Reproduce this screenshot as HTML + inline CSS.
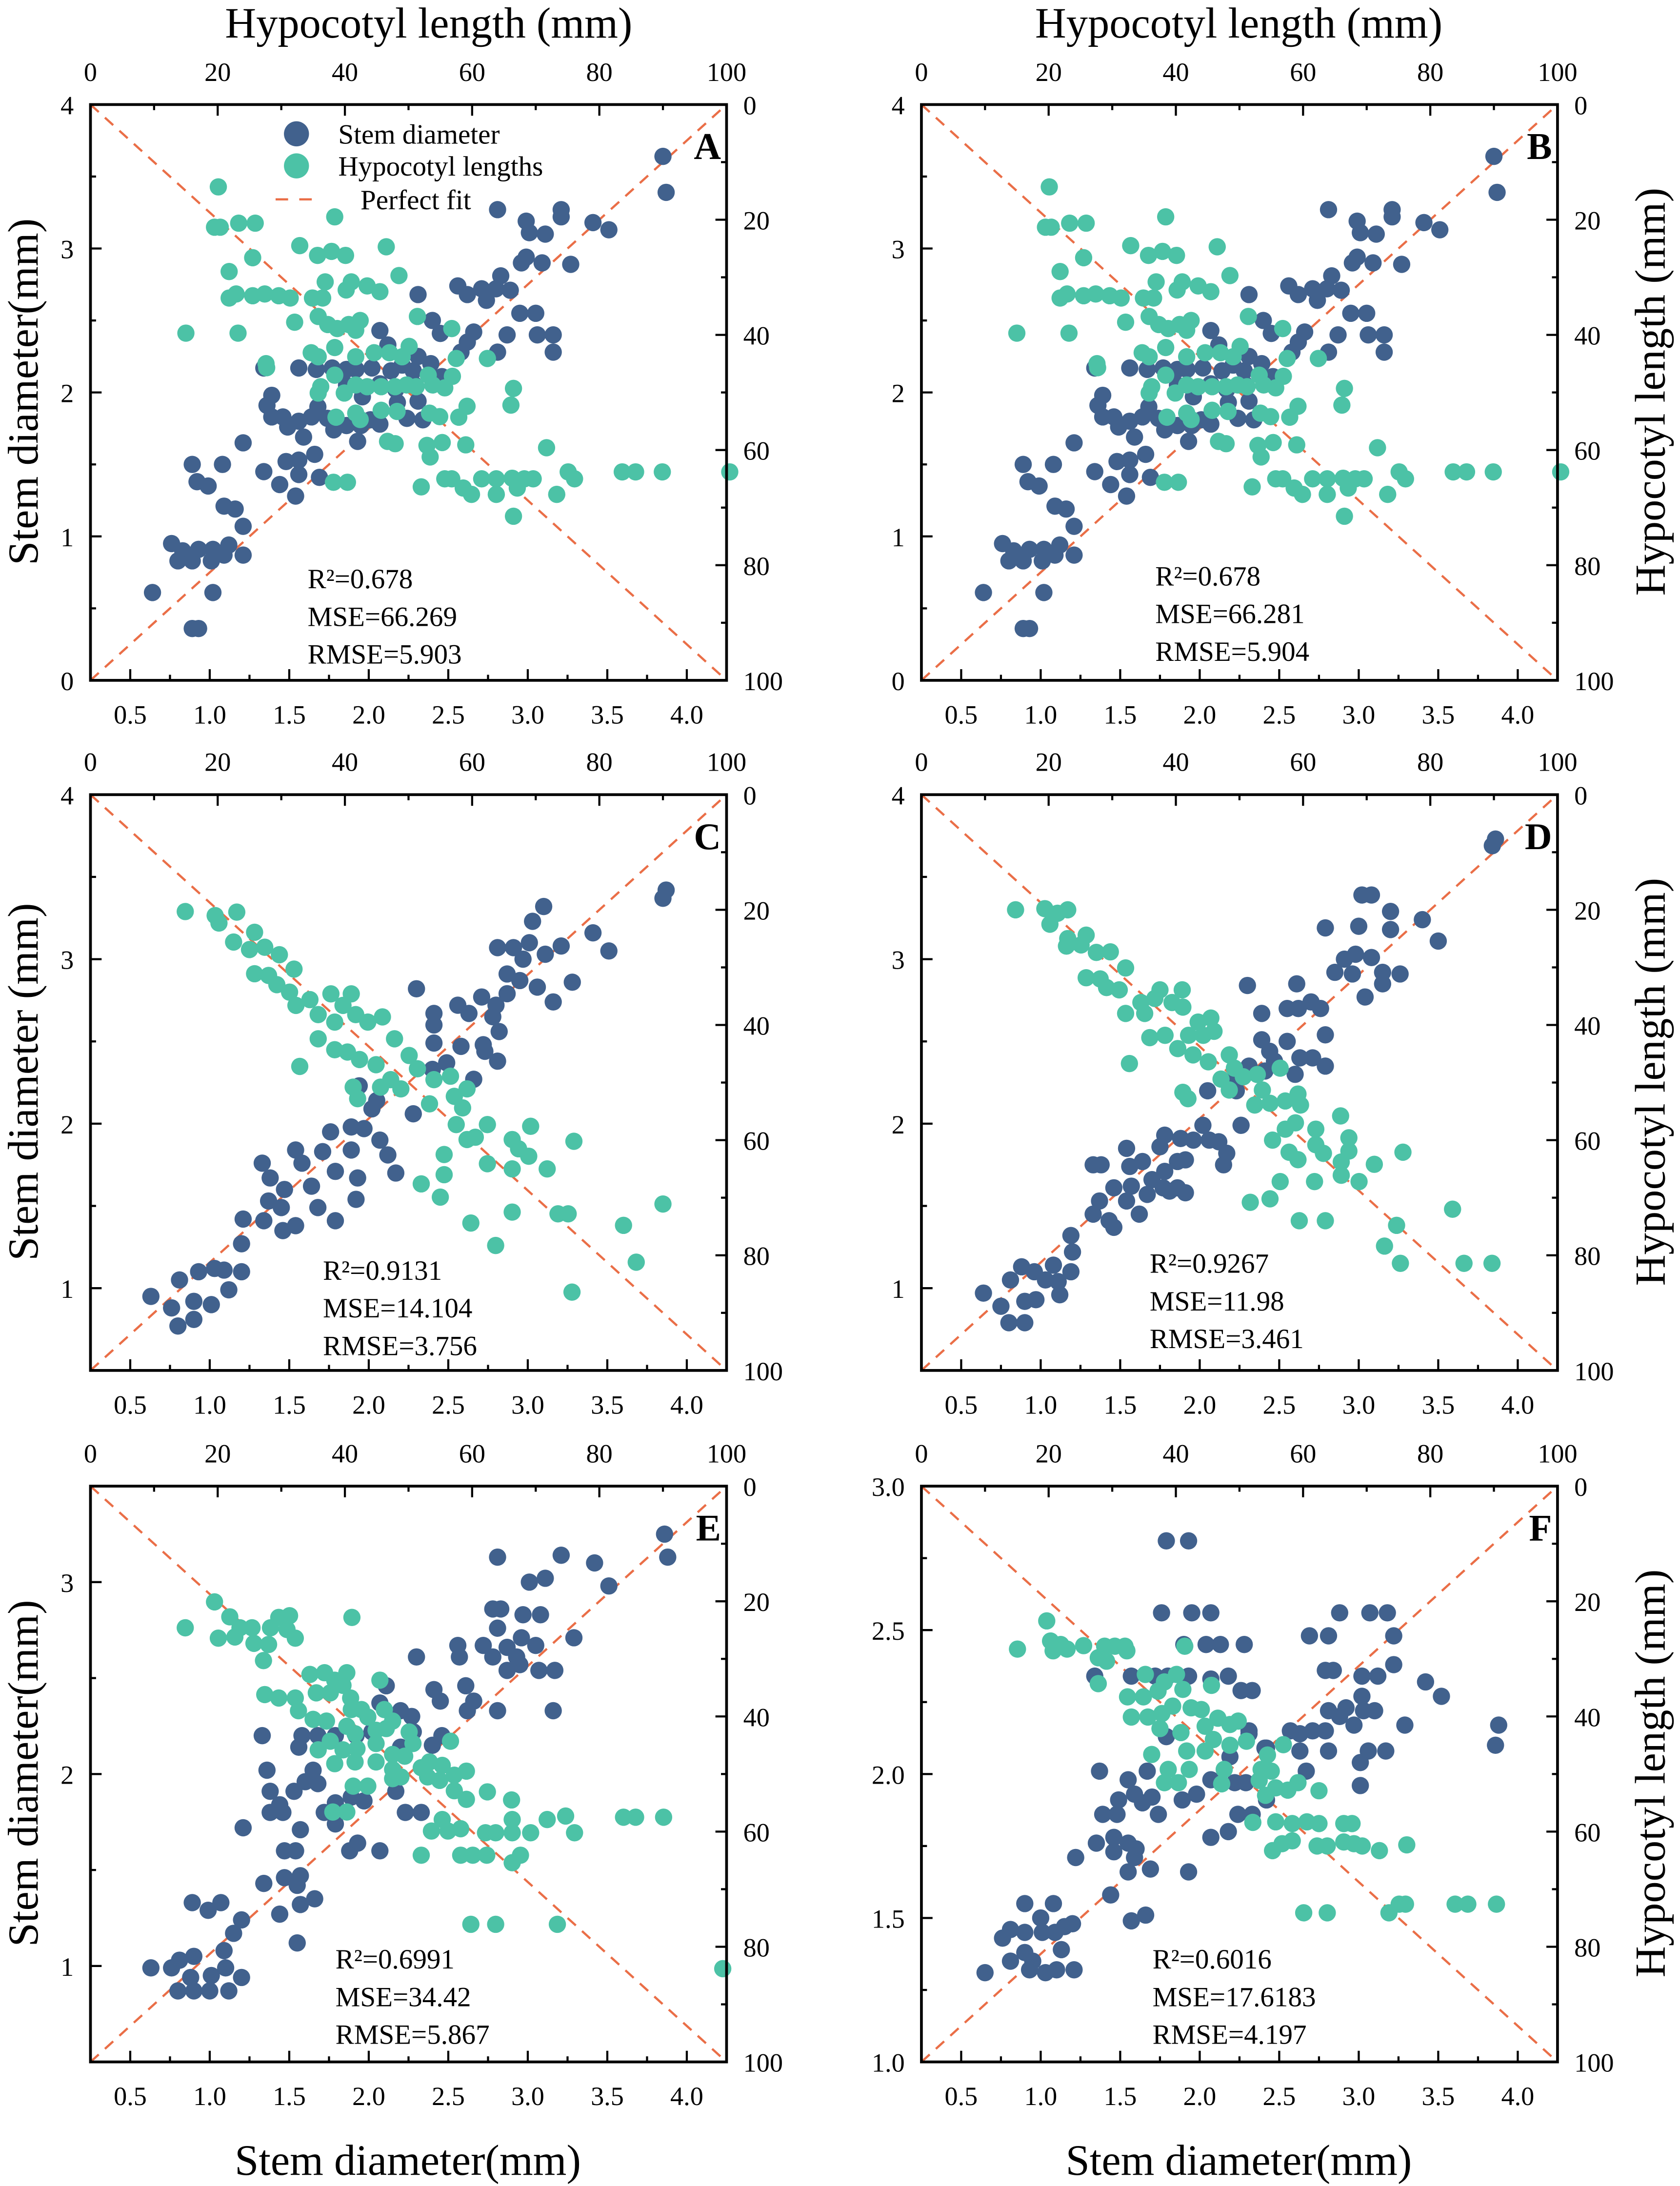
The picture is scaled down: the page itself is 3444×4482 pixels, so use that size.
<!DOCTYPE html>
<html><head><meta charset="utf-8"><style>html,body{margin:0;padding:0;background:#fff}svg{display:block}svg text{font-family:"Liberation Serif",serif}</style></head>
<body>
<svg id="fig" xmlns="http://www.w3.org/2000/svg" width="3444" height="4482" viewBox="0 0 1207 1568" preserveAspectRatio="none" style="font-family:'Liberation Serif',serif">
<g font-size="31" text-anchor="middle" fill="#000">
<text x="308" y="27">Hypocotyl length (mm)</text>
<text x="890" y="27">Hypocotyl length (mm)</text>
<text x="293" y="1560">Stem diameter(mm)</text>
<text x="890" y="1560">Stem diameter(mm)</text>
<text transform="translate(27,281) rotate(-90)">Stem diameter(mm)</text>
<text transform="translate(27,776) rotate(-90)">Stem diameter (mm)</text>
<text transform="translate(27,1272) rotate(-90)">Stem diameter(mm)</text>
<text transform="translate(1196,281) rotate(-90)">Hypocotyl length (mm)</text>
<text transform="translate(1196,776) rotate(-90)">Hypocotyl length (mm)</text>
<text transform="translate(1196,1272) rotate(-90)">Hypocotyl length (mm)</text>
</g>
</svg>
<script>
// ---- data (stem: [measured, predicted]; hypocotyl: [measured, predicted]) ----
const stemA=[0.64,0.61,0.76,0.95,0.8,0.83,0.83,0.9,0.89,1.5,0.92,1.38,0.99,1.35,1.08,1.5,0.89,0.83,0.93,0.91,1.01,0.83,1.02,0.91,1.09,0.87,1.12,0.94,1.21,0.87,1.02,0.61,0.89,0.36,0.93,0.36,1.09,1.21,1.16,1.19,1.21,1.07,1.21,1.65,1.34,1.45,1.44,1.36,1.48,1.52,1.56,1.53,1.54,1.28,1.56,1.43,1.66,1.57,1.69,1.41,1.36,1.91,1.39,1.98,1.39,1.83,1.46,1.83,1.49,1.76,1.56,1.8,1.59,1.69,1.64,1.83,1.68,1.9,1.74,1.82,1.78,1.74,1.86,1.77,1.93,1.66,1.95,1.77,2.01,1.81,2.07,1.78,2.18,1.93,2.24,1.82,2.31,1.94,2.34,1.81,1.34,2.17,1.56,2.17,1.67,2.16,1.77,2.17,1.86,2.16,1.92,2.16,2.02,2.17,2.14,2.15,2.21,2.19,2.28,2.15,1.86,2.05,1.96,1.97,2.07,2.06,2.17,2.02,2.31,2.25,2.28,2.06,2.39,2.2,2.46,2.11,2.07,2.43,2.12,2.33,2.31,2.68,2.4,2.5,2.45,2.41,2.58,2.28,2.62,2.35,2.66,2.42,2.81,2.28,2.87,2.4,3.06,2.4,3.16,2.4,3.16,2.28,2.56,2.74,2.62,2.68,2.71,2.72,2.74,2.64,2.8,2.72,2.83,2.81,2.89,2.71,2.95,2.55,3.05,2.55,2.96,2.9,2.99,2.94,3.09,2.9,3.27,2.89,3.01,3.11,2.99,3.19,3.11,3.1,3.21,3.27,3.21,3.22,3.41,3.18,3.51,3.13,2.81,3.27,3.85,3.64,3.87,3.39];
const hypoA=[20.1,14.3,15,39.7,19.5,21.3,20.4,21.3,23.3,20.6,25.9,20.6,21.8,29,25.5,26.6,21.8,33.6,22.9,32.9,25.5,33.2,27.4,32.9,29.6,33.2,31.4,33.6,32.9,24.5,34.9,33.6,35.7,26.2,36.5,33.6,36.9,30.8,37.9,25.5,38.4,19.5,40.1,26.2,40.2,32.2,41,30.8,43.5,31.5,45.5,32.5,46.5,24.7,48.5,29.7,23.2,39.7,32.1,37.8,35.8,36.8,37.3,38.2,38.8,38.9,40.6,38.2,42.4,37.5,41.7,39.2,51.4,36.8,56.8,38.9,27.6,45,27.7,45.7,34.7,43.1,35.8,43.8,38.4,42.2,41.7,43.8,44.6,43.1,47,43.1,49,43.8,50.1,42,57.5,44.1,62.4,44.1,36.2,49,35.8,50.1,38.4,47,39.9,50.1,41.7,48.7,43.5,49,45.7,49,47.9,49,49.7,48.7,51.2,49,53.1,47,53.8,48.7,55.7,49.2,56.9,47.2,66.5,49.3,66.1,52.2,38.6,54.3,41.7,53.6,42.4,54.7,45.7,53.1,48.2,53.3,53.3,53.6,54.9,54.2,57.9,54.3,59.2,52.4,46.7,58.5,47.9,58.9,52.9,59.2,55.3,58.7,53.4,61.2,59,59.1,71.7,59.6,38.2,65.6,40.4,65.6,52,66.4,55.7,65,56.8,65,58.6,66.6,59.9,67.7,61.5,65,63.8,65,63.8,67.7,66.3,64.9,68.2,65,69.6,65,67.1,66.6,73.3,67.7,75.1,63.8,76.1,65,66.5,71.5,83.6,63.8,85.7,63.8,89.9,63.8,100.5,63.8];
const stemC=[0.63,0.95,0.76,0.88,0.8,0.77,0.9,0.81,0.81,1.05,0.9,0.92,1.01,0.9,0.93,1.1,1.03,1.12,1.12,0.99,1.2,1.1,1.09,1.11,1.2,1.27,1.21,1.42,1.34,1.41,1.46,1.35,1.54,1.38,1.37,1.53,1.45,1.49,1.33,1.76,1.38,1.67,1.47,1.6,1.54,1.84,1.58,1.76,1.64,1.62,1.68,1.49,1.79,1.41,1.71,1.83,1.79,1.71,1.89,1.84,1.93,1.67,1.92,1.54,1.76,1.95,1.89,1.98,1.97,1.97,2.07,1.9,2.12,1.81,2.17,1.7,2.02,2.09,1.94,2.23,2.05,2.14,2.28,2.06,2.4,2.33,2.49,2.37,2.66,2.27,2.3,2.82,2.41,2.67,2.41,2.6,2.41,2.49,2.56,2.72,2.63,2.67,2.71,2.77,2.58,2.47,2.72,2.48,2.73,2.44,2.81,2.38,2.82,2.56,2.8,2.72,2.78,2.65,2.87,2.79,2.87,2.91,2.81,3.07,2.91,3.07,2.97,3.0,3.01,3.1,3.03,3.23,3.1,3.32,2.95,2.87,3.06,2.83,3.11,3.03,3.16,2.74,3.21,3.08,3.28,2.86,3.41,3.16,3.51,3.05,3.85,3.37,3.87,3.42];
const hypoC=[14.9,20.3,19.6,21,20.2,22.3,23,20.4,22.5,25.6,25.8,23.9,25,26.9,27.4,26.5,29.7,27.8,32,30.3,25.8,31.1,28,31.4,29.3,33,31.3,34.3,32.3,36.6,34.5,35.6,35.8,38.2,37.8,34.6,39.7,36.6,41,34.6,38.4,39.5,41.7,38.2,43.6,39.5,45.9,38.6,35.8,42.4,38.4,44.3,40.4,44.7,42.3,46,44.9,46.9,47.8,42.4,50.1,45.3,32.9,47.2,47.2,49.5,48.8,51.1,51.4,47.6,54,49.5,56.6,48.9,41.3,50.8,42,52.8,45.6,50.8,53.3,53.7,57.2,52.4,59.2,51.1,58.5,54.4,57.5,57.3,59.2,59.9,62.4,57.3,60.5,59.5,55.6,62.5,66.3,59.9,69.2,57.6,67.3,61.5,68.9,62.8,62.4,64.1,66.3,65,71.8,65,76,60.2,52,67.6,55.6,66,55,69.9,59.8,74.4,63.7,78.3,66.3,72.5,73.5,72.8,75.1,72.8,75.7,86.4,83.8,74.8,85.8,81.2,90,71.1];
const stemD=[0.64,0.97,0.75,0.89,0.8,0.79,0.9,0.79,0.81,1.05,0.88,1.13,0.9,0.92,0.97,0.93,0.96,1.1,1.03,1.05,1.08,1.14,1.11,1.04,1.12,0.96,1.19,1.1,1.2,1.22,1.19,1.32,1.33,1.45,1.37,1.53,1.43,1.41,1.46,1.37,1.33,1.75,1.38,1.75,1.54,1.85,1.46,1.61,1.56,1.74,1.54,1.53,1.57,1.62,1.62,1.45,1.64,1.77,1.67,1.57,1.7,1.66,1.77,1.61,1.78,1.71,1.81,1.59,1.75,1.86,1.78,1.93,1.86,1.77,1.86,1.61,1.91,1.58,1.88,1.91,1.91,1.78,1.96,1.9,2.02,1.99,2.06,1.9,2.12,1.89,2.17,1.82,2.15,1.75,2.26,1.99,2.05,2.2,2.2,2.26,2.23,2.2,2.31,2.35,2.41,2.32,2.44,2.44,2.39,2.51,2.39,2.67,2.3,2.84,2.55,2.7,2.55,2.5,2.6,2.3,2.63,2.4,2.71,2.4,2.61,2.85,2.62,2.7,2.7,2.74,2.76,2.7,2.79,2.54,2.79,2.35,2.79,3.19,2.85,2.92,2.91,3.0,2.98,3.03,2.96,2.91,3.04,2.77,3.08,3.01,3.15,2.92,3.15,2.85,3.0,3.2,3.02,3.39,3.08,3.39,3.2,3.29,3.2,3.18,3.26,2.91,3.4,3.24,3.5,3.11,3.84,3.69,3.86,3.73,2.47,2.38,2.22,2.22];
const hypoD=[14.8,20,19.4,19.8,20.2,22.5,21.4,20.6,23,20,23,25,22.8,26.3,25.9,24.4,25.1,26.1,27.5,27.4,29.7,27.3,25.9,31.8,28.1,32,29.1,33.5,31.1,33.9,32.1,30.1,32.1,38,34.5,36.1,35.1,38,36.7,35.4,37.5,33.9,39.4,36.1,41,33.9,41.1,36.9,35.9,42.2,38.3,41.8,40.3,44.1,42,41.8,43.5,39.5,45.5,38.8,44.3,41.8,46,41.1,42.7,45.2,45.1,46.4,48.4,45.2,49.2,47.5,47.1,49.4,32.7,46.7,41.1,51.7,41.9,52.8,48.4,51.3,50.6,49,52.8,48.6,53.6,51.3,52.4,53.9,54.8,53.6,56.4,47.5,57.2,53.2,59.2,52,59.6,53.9,55.2,60,57.2,58.1,57.8,62.1,59.2,63.4,58.8,57,62,58.1,62,60.8,63.2,62.3,65.9,55.8,66,63.8,67.2,59.6,67.2,61.9,66,66.1,68.8,67.2,71.2,64.2,75.7,62.1,56.4,67.2,61.8,67.2,54.8,70.2,51.7,70.8,59.4,74,63.5,74,74.7,74.8,72.8,78.4,75.3,81.4,83.5,72,85.3,81.4,89.7,81.4];
const stemE=[0.63,0.99,0.76,0.99,0.8,0.87,0.9,0.87,1.0,0.87,1.12,0.87,0.81,1.03,0.9,1.05,0.88,0.94,1.01,0.95,1.1,0.99,1.2,0.94,1.09,1.08,0.89,1.33,0.99,1.29,1.07,1.33,1.15,1.17,1.2,1.24,1.34,1.43,1.44,1.27,1.47,1.46,1.57,1.47,1.55,1.42,1.57,1.32,1.66,1.35,1.55,1.12,1.47,1.6,1.54,1.6,1.57,1.71,1.21,1.72,1.38,1.8,1.46,1.8,1.44,1.84,1.38,1.91,1.36,2.02,1.53,1.91,1.6,1.96,1.68,1.95,1.65,2.02,1.72,1.8,1.79,1.74,1.79,1.85,1.89,1.88,1.97,1.86,1.88,1.6,1.93,1.64,2.07,1.6,2.17,1.91,2.23,1.8,2.33,1.8,1.33,2.2,1.56,2.14,1.58,2.2,1.68,2.2,1.79,2.2,1.92,2.2,2.02,2.22,2.07,2.37,2.11,2.46,2.2,2.33,2.27,2.3,2.28,2.22,2.2,2.14,2.4,2.15,2.46,2.2,2.3,2.61,2.41,2.44,2.45,2.38,2.61,2.46,2.66,2.38,2.62,2.33,2.81,2.33,2.56,2.67,2.72,2.67,2.57,2.61,2.78,2.61,2.87,2.66,2.93,2.61,2.87,2.54,2.95,2.57,3.07,2.54,3.17,2.54,3.16,2.33,2.81,2.76,2.78,2.86,2.83,2.86,2.97,2.83,3.08,2.83,2.96,2.71,3.05,2.67,3.01,3.0,3.11,3.02,2.81,3.13,3.21,3.14,3.42,3.1,3.51,2.98,3.29,2.71,3.86,3.25,3.88,3.13];
const hypoE=[14.9,24.6,19.5,20.1,20.1,26.4,21.9,22.7,22.7,26.2,23.5,24.6,25.4,24.6,25.7,27.3,28,27.5,27.2,30.3,28.3,24.6,29.6,22.8,31.3,22.5,30.9,24.9,32.2,26.4,41.1,22.8,27.4,36.2,29.6,36.8,32.2,36.8,32.7,39,34.5,32.7,36.8,32.4,38.4,33.7,40.3,32.4,35.5,35.9,37.7,35.9,39.7,34.6,40.9,36.8,35,40.5,37.1,40.8,41,38.8,42.6,38.8,43.6,40.1,45.5,33.7,46.2,38.8,47.5,40.8,40.3,41.7,41.6,43,44.9,42.4,46.5,42.1,50.1,42.7,50.7,44.7,35.8,45.8,37.7,44.3,39.7,45.8,41.9,45.6,44.9,44.7,47.5,46.6,49.4,46.9,56.6,44.3,38.4,48.2,41.6,47.9,44.9,47.9,47.5,49.2,48.8,50.5,52,48.9,53.3,47.9,55.3,48.5,53,50.5,54.9,51.1,57.2,50.2,59.1,49.5,41.3,52.1,43.6,52.1,47.5,50.8,57.2,52.9,59.1,54.4,62.4,53.1,66.2,54.5,38.1,56.6,40.3,56.6,53.6,59.9,55.3,57.9,56.2,59.9,58.2,59.5,62.1,60.2,63.7,60.2,66.3,57.9,66.3,60.2,69.2,60.2,71.8,57.9,74.7,57.3,76.1,60.2,83.8,57.5,85.7,57.5,90.1,57.5,52,64.1,58.2,64.1,60.1,64.1,62.3,64.1,66.3,65.4,67.6,64.1,59.8,76.1,63.7,76.1,73.4,76.1,99.4,83.8];
const stemF=[0.65,1.31,0.76,1.43,0.81,1.46,0.81,1.35,0.9,1.38,0.9,1.45,0.93,1.32,1.0,1.5,1.01,1.45,1.03,1.31,0.95,1.35,1.1,1.32,1.09,1.45,1.13,1.39,1.15,1.47,1.2,1.48,1.21,1.32,0.9,1.55,1.08,1.55,1.22,1.71,1.44,1.58,1.55,1.66,1.69,1.67,1.93,1.66,1.57,1.49,1.66,1.51,1.35,1.76,1.46,1.78,1.46,1.73,1.55,1.76,1.6,1.74,1.59,1.71,2.07,1.78,2.18,1.8,1.39,1.86,1.48,1.86,1.49,1.91,1.59,1.93,1.64,1.9,1.7,1.92,1.74,1.86,1.89,1.91,1.98,1.93,2.24,1.86,2.33,1.86,1.37,2.01,1.55,1.98,1.67,2.01,2.07,1.98,2.22,1.97,2.29,1.97,2.42,1.91,2.19,2.06,2.31,2.15,2.41,2.09,2.57,2.15,2.63,2.14,2.71,2.15,2.79,2.15,2.63,2.08,2.67,2.01,2.81,2.08,2.81,2.22,2.88,2.2,2.92,2.23,2.97,2.17,3.03,2.22,3.1,2.22,3.01,2.04,3.01,1.96,3.06,2.08,3.17,2.08,3.02,2.27,3.02,2.34,3.12,2.34,2.79,2.36,2.84,2.36,3.22,2.38,3.42,2.32,3.52,2.27,3.29,2.17,3.86,2.1,3.88,2.17,2.69,2.48,2.81,2.48,3.22,2.48,2.88,2.56,3.07,2.56,3.18,2.56,1.34,2.34,1.57,2.34,1.72,2.34,1.8,2.34,1.93,2.34,2.07,2.33,2.18,2.34,2.26,2.29,2.33,2.29,1.9,2.45,2.04,2.45,2.13,2.45,2.28,2.45,1.76,2.56,1.95,2.56,2.07,2.56,1.79,2.81,1.93,2.81,1.79,2.13,2.31,2.14,2.42,2.09];
const hypoF=[15.1,28.3,19.7,23.4,20.3,26.9,20.7,28.6,21.9,27.5,22.9,28.3,25.5,27.7,27.8,29.8,28.8,27.8,30.4,27.8,32,27.8,32.3,28.6,27.8,34.3,29.1,30.4,41.4,27.8,35.2,32.7,38.2,34,40.1,32.7,45.6,34.6,32.4,36.6,34.9,36.6,37.2,35.6,41.1,35.3,33,40.1,35.6,40.1,37.8,39.5,39.5,38.2,42.4,38.5,44,38.8,37.5,42.1,40.8,42.8,44.6,41.7,46.6,40.3,48.5,41.4,49.8,40.8,45.9,44,44.6,46,41.7,46,48.5,45,51.1,44.3,54.4,46.7,56.9,44.9,36.2,46.6,38.8,49.2,42.1,49.2,38.2,51.5,40.4,51.5,47.6,49.2,47.2,51.7,53.4,49.2,55,49.5,53.1,51.1,54.1,53.7,55.7,52.4,57.6,52.8,59.2,51.5,62.5,52.9,52.1,58.4,55.7,58.3,58.3,58.6,60.6,58.3,62.5,58.6,66.4,58.6,67.7,58.6,55.2,63.3,56.7,62.1,58.3,61.6,62.2,62.5,63.8,62.5,66.4,61.8,68,62.1,69.3,62.5,72,63.3,76.3,62.3,60.1,74.1,63.8,74.1,73.5,74.1,75.1,72.6,76.1,72.6,83.9,72.6,85.9,72.6,90.4,72.6];
const leftTicksAB=[0,1,2,3,4];
const leftTicksCD=[1,2,3,4];
const leftTicksE=[1,2,3];
const leftTicksF=[1.0,1.5,2.0,2.5,3.0];
const bottomTicks=[0.5,1.0,1.5,2.0,2.5,3.0,3.5,4.0];
const hypoTicks=[0,20,40,60,80,100];

const panels=[
 {id:'A',x0:65,y0:75,ymin:0,ymax:4,lt:leftTicksAB,fmt:0,stem:stemA,hypo:hypoA,stats:['R²=0.678','MSE=66.269','RMSE=5.903'],sx:221,sy:422,legend:true},
 {id:'B',x0:662,y0:75,ymin:0,ymax:4,lt:leftTicksAB,fmt:0,stem:stemA,hypo:hypoA,stats:['R²=0.678','MSE=66.281','RMSE=5.904'],sx:830,sy:420},
 {id:'C',x0:65,y0:570,ymin:0.5,ymax:4,lt:leftTicksCD,fmt:0,stem:stemC,hypo:hypoC,stats:['R²=0.9131','MSE=14.104','RMSE=3.756'],sx:232,sy:918},
 {id:'D',x0:662,y0:570,ymin:0.5,ymax:4,lt:leftTicksCD,fmt:0,stem:stemD,hypo:hypoD,stats:['R²=0.9267','MSE=11.98','RMSE=3.461'],sx:826,sy:913},
 {id:'E',x0:65,y0:1066,ymin:0.5,ymax:3.5,lt:leftTicksE,fmt:0,stem:stemE,hypo:hypoE,stats:['R²=0.6991','MSE=34.42','RMSE=5.867'],sx:241,sy:1412},
 {id:'F',x0:662,y0:1066,ymin:1,ymax:3,lt:leftTicksF,fmt:1,stem:stemF,hypo:hypoF,stats:['R²=0.6016','MSE=17.6183','RMSE=4.197'],sx:828,sy:1412}
];
const W=457,H=413,NS='http://www.w3.org/2000/svg';
const svg=document.getElementById('fig');
const BLUE='#41618d',GREEN='#4cc2a6',RED='#ea6e47';
function mk(tag,attrs,parent,txt){const e=document.createElementNS(NS,tag);for(const k in attrs)e.setAttribute(k,attrs[k]);if(txt!==undefined)e.textContent=txt;parent.appendChild(e);return e;}
panels.forEach(p=>{
 const g=mk('g',{},svg);
 
 
 const x1=p.x0+W,y1=p.y0+H;
 const sxS=v=>p.x0+(v-0.25)/4*W;
 const syS=v=>y1-(v-p.ymin)/(p.ymax-p.ymin)*H;
 const sxH=v=>p.x0+v/100*W;
 const syH=v=>p.y0+v/100*H;
 const d1=mk('line',{x1:p.x0,y1:y1,x2:x1,y2:p.y0,stroke:RED,'stroke-width':1.6,'stroke-dasharray':'8,6'},g);
 
 
 const d2=mk('line',{x1:p.x0,y1:p.y0,x2:x1,y2:y1,stroke:RED,'stroke-width':1.6,'stroke-dasharray':'8,6'},g);
 
 
 for(let i=0;i<p.stem.length;i+=2){
  const c=mk('circle',{cx:sxS(p.stem[i]),cy:syS(p.stem[i+1]),r:6.2,fill:BLUE},g);
  
  
 }
 for(let i=0;i<p.hypo.length;i+=2){
  const c=mk('circle',{cx:sxH(p.hypo[i]),cy:syH(p.hypo[i+1]),r:6.2,fill:GREEN},g);
  
  
 }
 const fr=mk('rect',{x:p.x0,y:p.y0,width:W,height:H,fill:'none',stroke:'#000','stroke-width':2},g);
 
 
 const ax=mk('g',{stroke:'#000','stroke-width':1.5},g);
 
 
 const tx=mk('g',{'font-size':19,fill:'#000'},g);
 
 
 for(let v=0.25;v<=4.26;v+=0.25){const X=sxS(v);const maj=Math.abs((v*2)-Math.round(v*2))<1e-6;mk('line',{x1:X,y1:y1,x2:X,y2:y1-(maj?8:4)},ax);}
 bottomTicks.forEach(v=>{const t=mk('text',{x:sxS(v),y:y1+31,'text-anchor':'middle'},tx,v.toFixed(1));});
 for(let v=0;v<=100;v+=10){const X=sxH(v);mk('line',{x1:X,y1:p.y0,x2:X,y2:p.y0+(v%20===0?8:4)},ax);}
 hypoTicks.forEach(v=>{const t=mk('text',{x:sxH(v),y:p.y0-17,'text-anchor':'middle'},tx,String(v));});
 for(let v=0;v<=100;v+=10){const Y=syH(v);mk('line',{x1:x1,y1:Y,x2:x1-(v%20===0?8:4),y2:Y},ax);}
 hypoTicks.forEach(v=>{const t=mk('text',{x:x1+12,y:syH(v)+7,'text-anchor':'start'},tx,String(v));});
 const step=p.lt.length>1?(p.lt[1]-p.lt[0]):1;
 for(let v=p.ymin;v<=p.ymax+1e-6;v+=step/2){const Y=syS(v);const maj=p.lt.some(t=>Math.abs(t-v)<1e-6);mk('line',{x1:p.x0,y1:Y,x2:p.x0+(maj?8:4),y2:Y},ax);}
 p.lt.forEach(v=>{const t=mk('text',{x:p.x0-12,y:syS(v)+7,'text-anchor':'end'},tx,v.toFixed(p.fmt));});
 const L=mk('text',{x:x1-4,y:p.y0+39,'text-anchor':'end','font-size':27,'font-weight':'bold'},g,p.id);
 
 
 p.stats.forEach((s,i)=>{const t=mk('text',{x:p.sx,y:p.sy+i*27,'font-size':20},g,s);});
 if(p.legend){
  const lg=mk('g',{'font-size':20},g);
  
  
  mk('circle',{cx:213,cy:96,r:9,fill:BLUE},lg);
  mk('text',{x:243,y:103},lg,'Stem diameter');
  mk('circle',{cx:213,cy:119,r:9,fill:GREEN},lg);
  mk('text',{x:243,y:126},lg,'Hypocotyl lengths');
  mk('line',{x1:198,y1:143,x2:230,y2:143,stroke:RED,'stroke-width':1.6,'stroke-dasharray':'9,8'},lg);
  mk('text',{x:259,y:150},lg,'Perfect fit');
 }
});
</script>
</body></html>
